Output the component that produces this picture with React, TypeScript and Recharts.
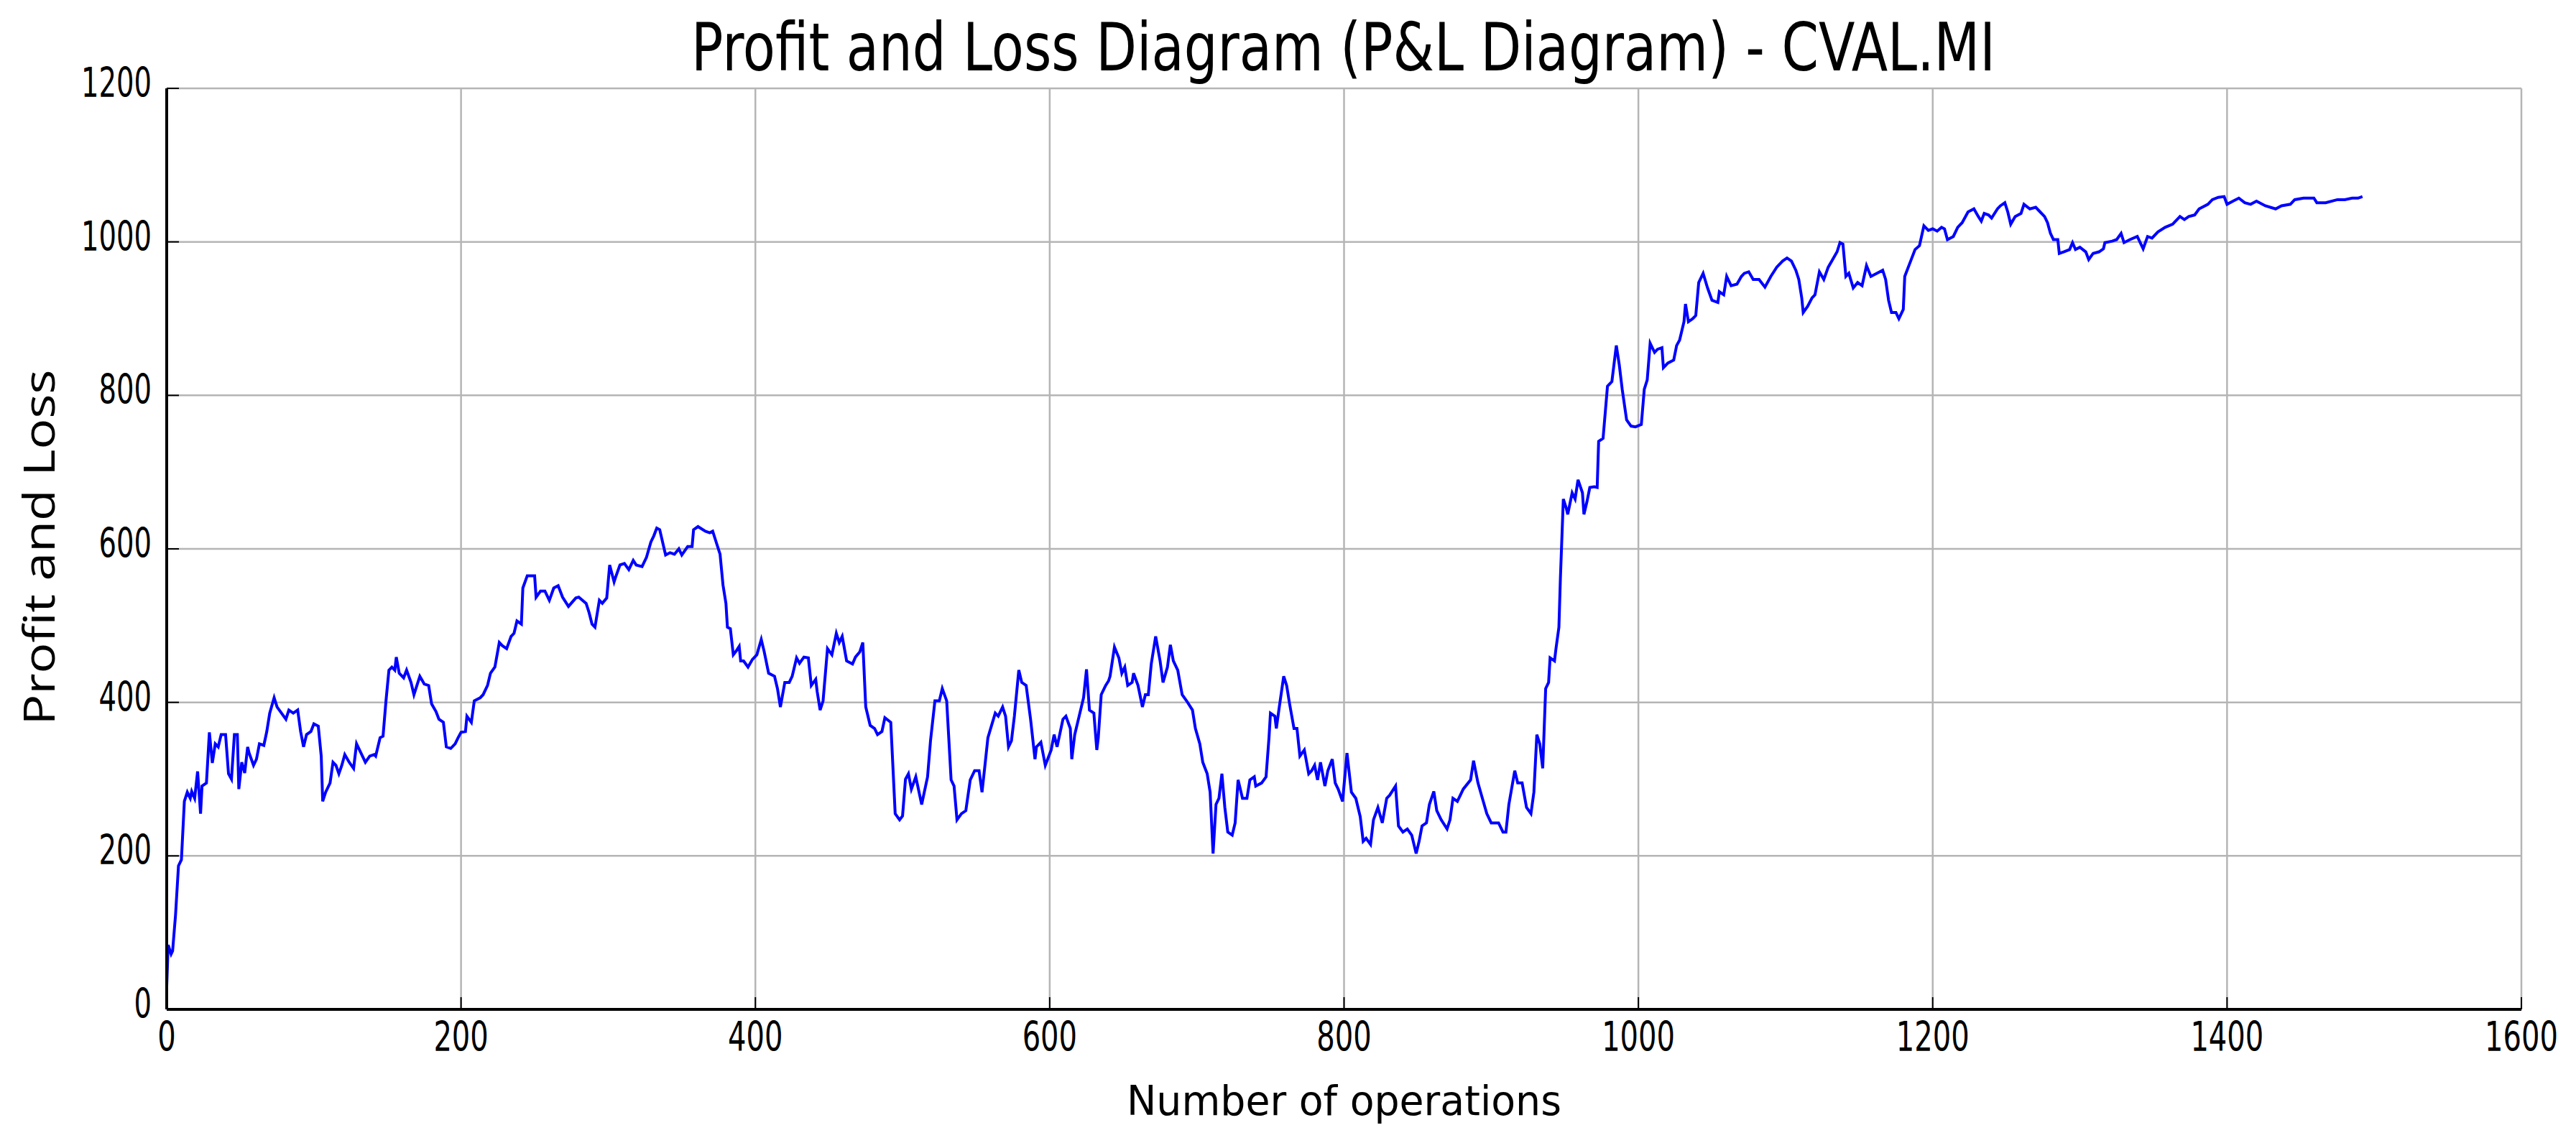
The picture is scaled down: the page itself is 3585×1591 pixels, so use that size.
import React from 'react';
import { LineChart, Line, XAxis, YAxis, CartesianGrid, Label } from 'recharts';

const chartTitle = 'Profit and Loss Diagram (P&L Diagram) - CVAL.MI';
const xAxisTitle = 'Number of operations';
const yAxisTitle = 'Profit and Loss';

const xTicks = [0, 200, 400, 600, 800, 1000, 1200, 1400, 1600];
const yTicks = [0, 200, 400, 600, 800, 1000, 1200];

// [operation number, cumulative P&L]
const segmentStart: [number, number][] = [
  [0, 30], [1, 84], [3, 72], [4, 76], [6, 123], [8, 187], [10, 195], [12, 271], [14, 283], [16, 275],
  [17, 284], [19, 275], [21, 310], [23, 255], [24, 291], [27, 295], [29, 361], [31, 321], [33, 346], [35, 342],
  [37, 358], [40, 358], [42, 307], [44, 300], [46, 358], [48, 358], [49, 287], [51, 322], [53, 308], [55, 342],
  [56, 334], [59, 318], [61, 326], [63, 346], [66, 344], [68, 362], [70, 386], [73, 406], [75, 394], [78, 386],
  [81, 378], [83, 390], [86, 386], [89, 390], [91, 362], [93, 342], [95, 358], [98, 362], [100, 372], [103, 369],
  [105, 330], [106, 271], [108, 283], [111, 295], [113, 322], [115, 318], [117, 307], [119, 318], [121, 332], [124, 322],
  [127, 314], [129, 346], [132, 334], [135, 322], [138, 330], [141, 332], [142, 330], [145, 354], [147, 356], [149, 402],
  [151, 442], [153, 446], [155, 442], [156, 459], [158, 438], [161, 432], [163, 442], [166, 426], [168, 410], [170, 422],
  [172, 434], [175, 424], [178, 422], [180, 398], [183, 388], [185, 378], [188, 374], [190, 342], [193, 340], [196, 346],
  [198, 354], [200, 361], [203, 362], [204, 382], [207, 374], [209, 402], [213, 406], [215, 410], [218, 422], [220, 438],
  [223, 446], [226, 478], [228, 474], [231, 470], [234, 486], [236, 490], [238, 506], [241, 502], [242, 549], [245, 565],
  [250, 565], [251, 537], [254, 545], [257, 545], [260, 533], [263, 549], [266, 552], [269, 537], [273, 525], [278, 536],
];

const segmentFirstPeak: [number, number][] = [
  [280, 537], [285, 529], [287, 517], [289, 502], [291, 498], [294, 533], [296, 529], [299, 536], [301, 579], [304, 557],
  [305, 563], [308, 579], [311, 581], [314, 573], [317, 585], [319, 579], [323, 577], [326, 589], [329, 609], [331, 617],
  [333, 627], [335, 625], [339, 592], [342, 595], [345, 593], [348, 600], [350, 592], [354, 603], [357, 603], [358, 625],
  [361, 629], [366, 623], [369, 621], [371, 623], [373, 611], [376, 593], [378, 553], [380, 529], [381, 498], [383, 496],
  [385, 462], [387, 467], [389, 473], [390, 454], [392, 454], [395, 446], [398, 456], [401, 462], [404, 482], [406, 466],
  [409, 438], [413, 434], [415, 418], [417, 394], [420, 426], [423, 426], [425, 434], [428, 458], [430, 451], [433, 459],
  [436, 458], [438, 422], [441, 430], [442, 414], [444, 390], [446, 402], [449, 470], [452, 462], [455, 490], [457, 478],
  [459, 486], [462, 454], [466, 450], [468, 459], [471, 466], [473, 478], [475, 394], [478, 370], [481, 366], [483, 358],
  [486, 362], [488, 380], [492, 374], [495, 255], [498, 247], [500, 252], [502, 300], [504, 307], [506, 287], [509, 303],
  [513, 267], [517, 303], [519, 350], [522, 402], [525, 402], [527, 418], [530, 402], [533, 299], [535, 291], [537, 247],
  [540, 255], [543, 259], [546, 299], [549, 311], [552, 311], [554, 283], [556, 318], [558, 354],
];

const segmentMiddle: [number, number][] = [
  [563, 386], [565, 382], [568, 394], [570, 382], [572, 342], [574, 350], [576, 382], [579, 442], [581, 426], [584, 422],
  [587, 378], [590, 326], [591, 342], [594, 348], [597, 318], [601, 338], [603, 358], [605, 342], [609, 378], [611, 382],
  [614, 366], [615, 326], [617, 358], [620, 382], [623, 406], [625, 443], [627, 390], [630, 386], [632, 338], [633, 354],
  [635, 410], [638, 422], [640, 428], [641, 434], [644, 472], [647, 458], [649, 438], [651, 446], [653, 422], [656, 426],
  [657, 438], [660, 422], [663, 394], [665, 410], [667, 410], [669, 450], [672, 486], [675, 454], [677, 426], [680, 446],
  [682, 475], [684, 454], [687, 442], [690, 410], [693, 402], [697, 390], [699, 366], [702, 346], [704, 322], [707, 307],
  [709, 283], [711, 203], [713, 267], [715, 275], [717, 307], [719, 263], [721, 231], [724, 227], [726, 243], [728, 299],
  [731, 275], [734, 275], [736, 299], [739, 303], [740, 291], [744, 295], [747, 303], [749, 354], [750, 386], [753, 382],
  [754, 366], [756, 394], [759, 434], [761, 422], [763, 398], [766, 366], [768, 366], [770, 330], [773, 338], [776, 307],
  [778, 311], [780, 318], [782, 299], [784, 322], [787, 291], [789, 311], [792, 326], [794, 295], [796, 287], [799, 271],
  [802, 334], [805, 283], [808, 275], [811, 251], [813, 219], [815, 223], [818, 215], [820, 247], [823, 263], [826, 243],
  [829, 275], [831, 279], [835, 291], [837, 239], [840, 231], [843, 235],
];

const segmentRally: [number, number][] = [
  [846, 227], [849, 203], [851, 219], [853, 239], [856, 243], [858, 267], [861, 284], [863, 259], [866, 247], [870, 235],
  [872, 247], [874, 275], [877, 271], [881, 287], [886, 299], [888, 324], [891, 295], [894, 275], [897, 255], [900, 243],
  [905, 243], [908, 231], [910, 231], [912, 267], [916, 311], [918, 295], [921, 295], [924, 263], [927, 255], [929, 283],
  [931, 358], [933, 346], [935, 314], [937, 418], [939, 426], [940, 458], [943, 454], [944, 470], [946, 498], [947, 561],
  [949, 665], [951, 653], [952, 645], [955, 673], [957, 665], [959, 690], [962, 673], [963, 645], [965, 661], [967, 680],
  [970, 681], [972, 680], [973, 740], [976, 744], [979, 812], [982, 818], [985, 865], [987, 840], [989, 808], [992, 768],
  [995, 760], [998, 759], [1002, 762], [1004, 808], [1006, 820], [1008, 868], [1011, 856], [1013, 860], [1016, 862], [1017, 836],
  [1020, 842], [1024, 846], [1026, 865], [1028, 872], [1031, 896], [1032, 919], [1034, 896], [1037, 900], [1039, 904], [1041, 947],
  [1044, 959], [1047, 940], [1050, 924], [1054, 921], [1055, 935], [1058, 931], [1060, 955], [1063, 943], [1067, 945], [1070, 955],
  [1072, 959], [1075, 961], [1078, 951], [1082, 951], [1086, 941], [1090, 955], [1094, 967], [1098, 975], [1101, 979], [1104, 975],
  [1107, 963], [1109, 951], [1111, 927], [1112, 908], [1115, 916], [1118, 927], [1120, 931], [1123, 961], [1126, 951],
];

const segmentPlateau: [number, number][] = [
  [1129, 967], [1132, 977], [1135, 987], [1137, 999], [1139, 997], [1141, 955], [1143, 959], [1146, 940], [1149, 947], [1152, 943],
  [1155, 969], [1158, 955], [1162, 959], [1166, 963], [1168, 951], [1170, 924], [1172, 908], [1175, 908], [1177, 900], [1180, 912],
  [1181, 955], [1185, 975], [1188, 990], [1191, 995], [1194, 1021], [1197, 1015], [1200, 1017], [1203, 1014], [1206, 1019], [1208, 1017],
  [1210, 1003], [1214, 1007], [1217, 1019], [1220, 1025], [1224, 1039], [1228, 1043], [1231, 1033], [1233, 1027], [1235, 1037], [1238, 1035],
  [1240, 1031], [1244, 1043], [1246, 1047], [1249, 1051], [1251, 1039], [1253, 1023], [1256, 1033], [1260, 1037], [1262, 1049], [1266, 1043],
  [1270, 1045], [1273, 1039], [1276, 1033], [1278, 1025], [1280, 1011], [1282, 1003], [1285, 1003], [1286, 985], [1289, 987], [1293, 990],
  [1295, 999], [1297, 990], [1300, 993], [1304, 987], [1306, 977], [1309, 985], [1313, 987], [1316, 991], [1317, 999], [1322, 1001],
  [1325, 1003], [1328, 1011], [1330, 999], [1334, 1003], [1339, 1007], [1343, 991], [1346, 1007], [1349, 1005], [1353, 1013], [1358, 1019],
  [1363, 1023], [1368, 1033], [1371, 1029], [1374, 1033], [1378, 1035], [1381, 1043], [1387, 1049], [1390, 1055], [1394, 1058], [1398, 1059],
  [1400, 1049], [1404, 1053], [1408, 1057], [1412, 1051], [1416, 1049], [1420, 1053], [1426, 1047], [1433, 1043], [1437, 1047], [1443, 1049],
  [1446, 1055], [1452, 1057], [1459, 1057], [1461, 1051], [1467, 1051], [1475, 1055], [1480, 1055], [1485, 1057], [1489, 1057], [1492, 1059],
];

const data = [...segmentStart, ...segmentFirstPeak, ...segmentMiddle, ...segmentRally, ...segmentPlateau].map(
  ([op, pnl]) => ({ op, pnl })
);

const CHART_W = 3585;
const CHART_H = 1591;
const MARGIN = { top: 123, right: 76, bottom: 0, left: 0 };
const Y_AXIS_W = 232;
const X_AXIS_H = 186;
const PLOT_W = CHART_W - MARGIN.right - MARGIN.left - Y_AXIS_W;

const FONT = '"DejaVu Sans", sans-serif';
const TICK_LEN = 17;
const DIGIT_W = 25.5;

const BottomTick = (props: any) => {
  const { x, y, payload } = props;
  const s = String(payload.value);
  return (
    <g>
      <line x1={x} x2={x} y1={y} y2={y - TICK_LEN} stroke="#000" strokeWidth={2} />
      <text x={x} y={y + 58} textAnchor="middle" fontFamily={FONT} fontSize={57} fill="#000"
        textLength={DIGIT_W * s.length} lengthAdjust="spacingAndGlyphs">{s}</text>
    </g>
  );
};

const TopTick = (props: any) => {
  const { x, y } = props;
  return <line x1={x} x2={x} y1={y} y2={y + TICK_LEN} stroke="#000" strokeWidth={2} />;
};

const LeftTick = (props: any) => {
  const { x, y, payload } = props;
  const s = String(payload.value);
  return (
    <g>
      <line x1={x} x2={x + TICK_LEN} y1={y} y2={y} stroke="#000" strokeWidth={2} />
      <text x={x - 21} y={y + 12} textAnchor="end" fontFamily={FONT} fontSize={57} fill="#000"
        textLength={(DIGIT_W - 1) * s.length} lengthAdjust="spacingAndGlyphs">{s}</text>
    </g>
  );
};

const RightTick = (props: any) => {
  const { x, y } = props;
  return <line x1={x} x2={x - TICK_LEN} y1={y} y2={y} stroke="#000" strokeWidth={2} />;
};

const XTitle = (props: any) => {
  const vb = props.viewBox;
  return (
    <text x={vb.x + vb.width / 2} y={vb.y + 147} textAnchor="middle" fontFamily={FONT} fontSize={57} fill="#000"
      textLength={605} lengthAdjust="spacingAndGlyphs">{xAxisTitle}</text>
  );
};

const YTitle = (props: any) => {
  const vb = props.viewBox;
  const cx = 76;
  const cy = vb.y + vb.height / 2 - 2;
  return (
    <text x={cx} y={cy} transform={`rotate(-90 ${cx} ${cy})`} textAnchor="middle"
      fontFamily='"Open Sans", sans-serif' fontSize={60} fill="#000"
      textLength={495} lengthAdjust="spacingAndGlyphs">{yAxisTitle}</text>
  );
};

const MainTitle = (props: any) => {
  const vb = props.viewBox;
  const cx = vb.x + vb.width + PLOT_W / 2 - 1;
  return (
    <text x={cx} y={vb.y - 25} textAnchor="middle" fontFamily={FONT} fontSize={93} fill="#000"
      textLength={1815} lengthAdjust="spacingAndGlyphs">{chartTitle}</text>
  );
};

export default function App() {
  return (
    <div style={{ position: 'absolute', left: 0, top: 0, width: CHART_W, height: CHART_H, background: '#fff' }}>
      <LineChart width={CHART_W} height={CHART_H} data={data} margin={MARGIN}>
        <CartesianGrid stroke="#b5b5b5" strokeWidth={2.5} horizontalValues={yTicks} verticalValues={xTicks} />
        <XAxis xAxisId={0} dataKey="op" type="number" domain={[0, 1600]} ticks={xTicks} interval={0}
          height={X_AXIS_H} tickSize={0} tickMargin={0} tickLine={false} allowDataOverflow
          axisLine={{ stroke: '#000', strokeWidth: 4 }} tick={(p: any) => <BottomTick {...p} />}>
          <Label content={(p: any) => <XTitle {...p} />} />
        </XAxis>
        <XAxis xAxisId="top" orientation="top" dataKey="op" type="number" domain={[0, 1600]} ticks={xTicks} interval={0}
          height={0} tickSize={0} tickMargin={0} tickLine={false} allowDataOverflow
          axisLine={{ stroke: '#000', strokeWidth: 4 }} tick={(p: any) => <TopTick {...p} />} />
        <YAxis yAxisId={0} type="number" domain={[0, 1200]} ticks={yTicks} interval={0} width={Y_AXIS_W}
          tickSize={0} tickMargin={0} tickLine={false} allowDataOverflow
          axisLine={{ stroke: '#000', strokeWidth: 4 }} tick={(p: any) => <LeftTick {...p} />}>
          <Label content={(p: any) => (
            <g>
              <YTitle {...p} />
              <MainTitle {...p} />
            </g>
          )} />
        </YAxis>
        <YAxis yAxisId="right" orientation="right" type="number" domain={[0, 1200]} ticks={yTicks} interval={0} width={0}
          tickSize={0} tickMargin={0} tickLine={false} allowDataOverflow
          axisLine={{ stroke: '#000', strokeWidth: 4 }} tick={(p: any) => <RightTick {...p} />} />
        <Line xAxisId={0} yAxisId={0} type="linear" dataKey="pnl" stroke="#0000ff" strokeWidth={4}
          dot={false} activeDot={false} isAnimationActive={false} />
      </LineChart>
    </div>
  );
}
